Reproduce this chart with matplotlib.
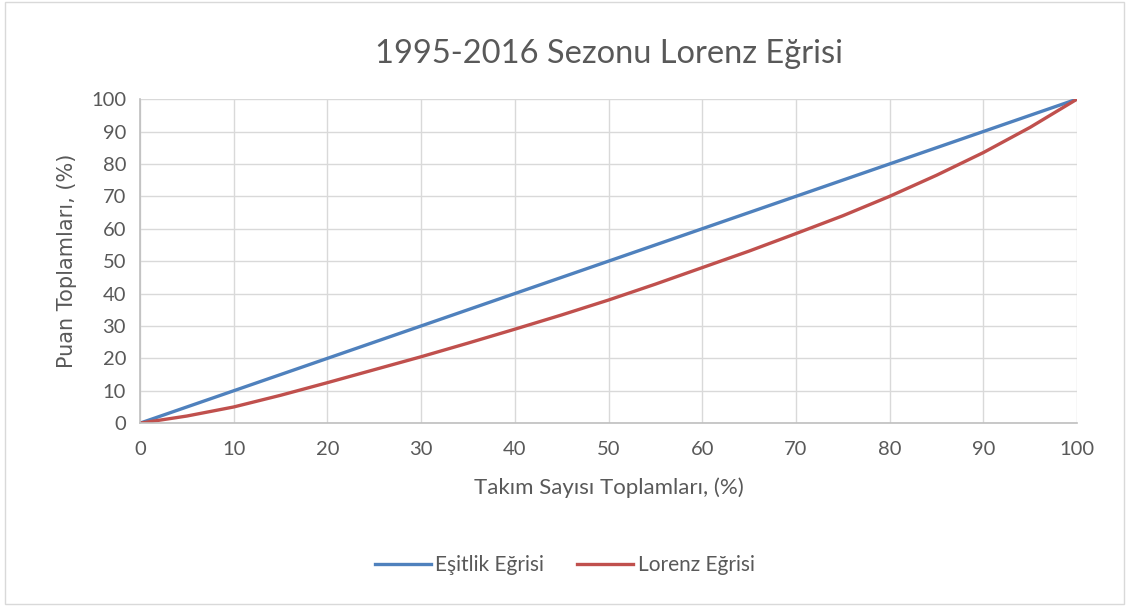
import matplotlib.pyplot as plt
from matplotlib.patches import Rectangle

# Veriler
x_vals = [0, 5, 10, 15, 20, 25, 30, 35, 40, 45, 50, 55, 60, 65, 70, 75, 80, 85, 90, 95, 100]
esitlik = [0, 5, 10, 15, 20, 25, 30, 35, 40, 45, 50, 55, 60, 65, 70, 75, 80, 85, 90, 95, 100]
lorenz = [0, 2.2, 5, 8.6, 12.5, 16.5, 20.5, 24.7, 29, 33.4, 38, 42.9, 48, 53.1, 58.5, 64, 70, 76.5, 83.5, 91.3, 100]
ticks = list(range(0, 101, 10))

plt.rcParams['font.family'] = ['Lato', 'DejaVu Sans']

fig = plt.figure(figsize=(11.29, 6.08), dpi=100)
fig.patches.append(Rectangle((0.004, 0.006), 0.992, 0.99, transform=fig.transFigure,
                             fill=False, edgecolor='#d9d9d9', linewidth=1))
ax = fig.add_axes([0.124, 0.304, 0.830, 0.533])

ax.plot(x_vals, esitlik, color='#4F81BD', linewidth=2.4, label='Eşitlik Eğrisi')
ax.plot(x_vals, lorenz, color='#C0504D', linewidth=2.4, label='Lorenz Eğrisi')

ax.set_xlim(0, 100)
ax.set_ylim(0, 100)
ax.set_xticks(ticks)
ax.set_yticks(ticks)
ax.grid(True, color='#d9d9d9', linewidth=1)
ax.set_axisbelow(True)
for s in ['top', 'right']:
    ax.spines[s].set_visible(False)
for s in ['left', 'bottom']:
    ax.spines[s].set_color('#bfbfbf')
    ax.spines[s].set_linewidth(1.2)
ax.tick_params(length=0, labelsize=14.5, colors='#595959', pad=10)
ax.tick_params(axis='x', pad=13)

ax.set_title('1995-2016 Sezonu Lorenz Eğrisi', fontsize=23.5, color='#595959', pad=26)
ax.set_xlabel('Takım Sayısı Toplamları, (%)', fontsize=16, color='#595959', labelpad=14)
ax.set_ylabel('Puan Toplamları, (%)', fontsize=15, color='#595959', family='DejaVu Sans', labelpad=10)

fig.legend(loc='center', bbox_to_anchor=(0.5, 0.07), ncol=2, frameon=False,
           fontsize=15, labelcolor='#595959', handlelength=2.7, columnspacing=1.6,
           handletextpad=0.2)

plt.savefig('out.png', dpi=100)
